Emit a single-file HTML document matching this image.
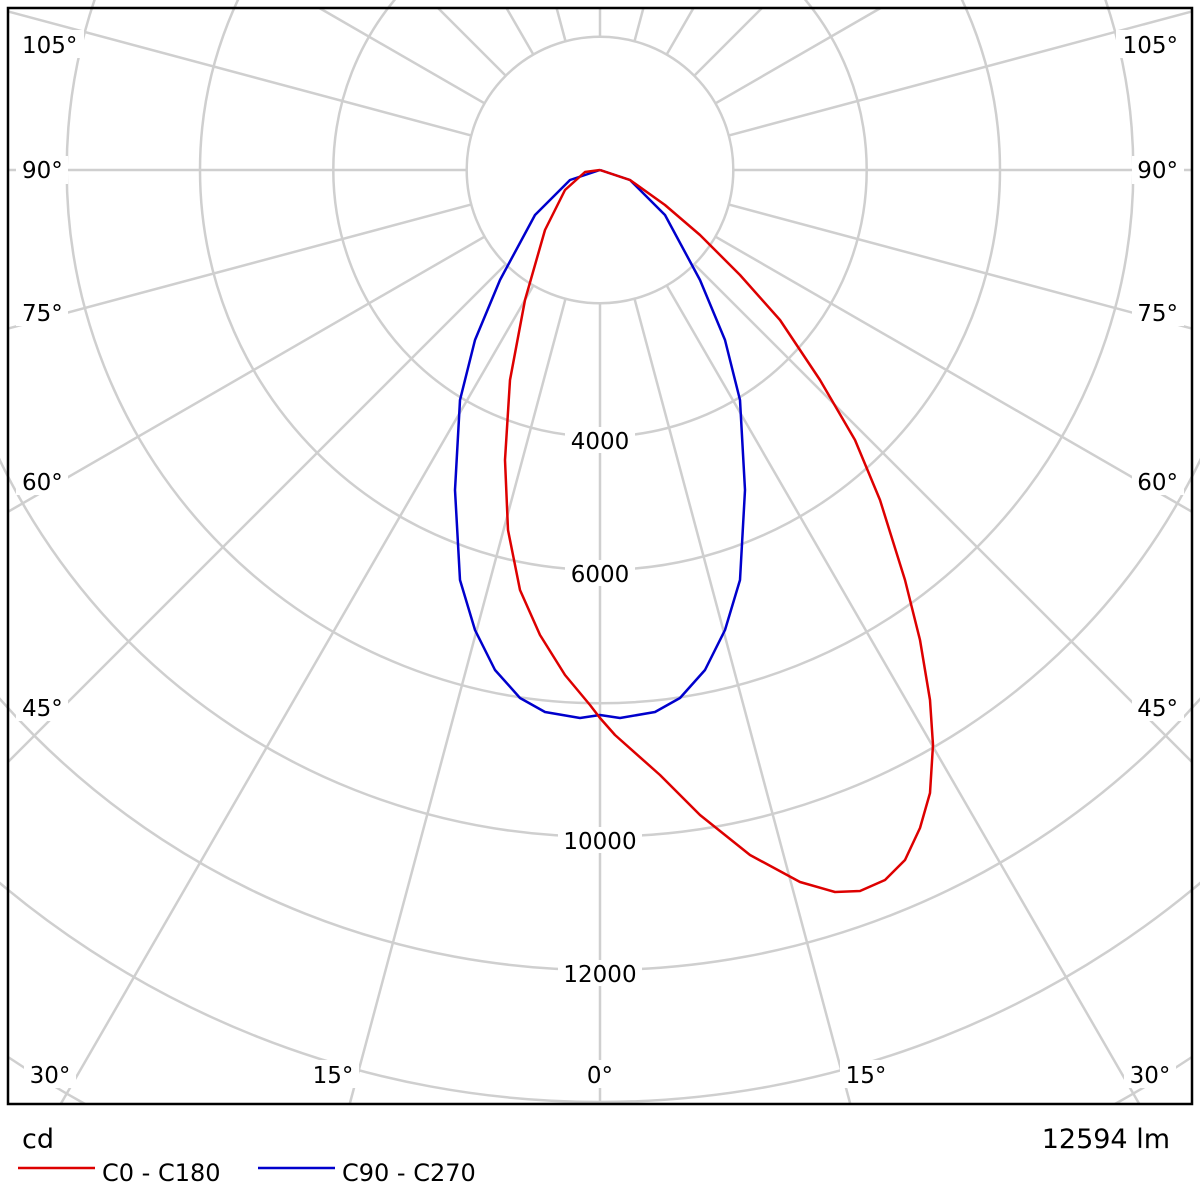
<!DOCTYPE html>
<html><head><meta charset="utf-8"><style>
html,body{margin:0;padding:0;background:#fff;width:1200px;height:1200px;overflow:hidden}
svg{display:block}
text{font-family:"DejaVu Sans","Liberation Sans",sans-serif;fill:#000}
</style></head><body>
<svg width="1200" height="1200" viewBox="0 0 1200 1200" xmlns="http://www.w3.org/2000/svg">
<defs>
<mask id="m" maskUnits="userSpaceOnUse" x="0" y="0" width="1200" height="1200"><rect x="0" y="0" width="1200" height="1200" fill="#fff"/><circle cx="600" cy="170" r="133.3" fill="#000"/></mask></defs>
<g stroke="#cfcfcf" stroke-width="2.5" fill="none">
<g mask="url(#m)">
<line x1="600" y1="170" x2="600" y2="1104"/>
<line x1="600" y1="170" x2="349.7" y2="1104"/>
<line x1="600" y1="170" x2="850.3" y2="1104"/>
<line x1="600" y1="170" x2="60.7" y2="1104"/>
<line x1="600" y1="170" x2="1139.3" y2="1104"/>
<line x1="600" y1="170" x2="8" y2="762"/>
<line x1="600" y1="170" x2="1192" y2="762"/>
<line x1="600" y1="170" x2="8" y2="511.8"/>
<line x1="600" y1="170" x2="1192" y2="511.8"/>
<line x1="600" y1="170" x2="8" y2="328.6"/>
<line x1="600" y1="170" x2="1192" y2="328.6"/>
<line x1="600" y1="170" x2="8" y2="170"/>
<line x1="600" y1="170" x2="1192" y2="170"/>
<line x1="600" y1="170" x2="8" y2="11.4"/>
<line x1="600" y1="170" x2="1192" y2="11.4"/>
<line x1="600" y1="170" x2="319.4" y2="8"/>
<line x1="600" y1="170" x2="880.6" y2="8"/>
<line x1="600" y1="170" x2="438" y2="8"/>
<line x1="600" y1="170" x2="762" y2="8"/>
<line x1="600" y1="170" x2="506.5" y2="8"/>
<line x1="600" y1="170" x2="693.5" y2="8"/>
<line x1="600" y1="170" x2="556.6" y2="8"/>
<line x1="600" y1="170" x2="643.4" y2="8"/>
<line x1="600" y1="170" x2="600" y2="8"/>
</g>
<circle cx="600" cy="170" r="133.3"/>
<circle cx="600" cy="170" r="266.7"/>
<circle cx="600" cy="170" r="400"/>
<circle cx="600" cy="170" r="533.3"/>
<circle cx="600" cy="170" r="666.7"/>
<circle cx="600" cy="170" r="800"/>
<circle cx="600" cy="170" r="932"/>
<path d="M8,1057 A1066.7,1066.7 0 0 0 85,1104"/>
<path d="M1115,1104 A1066.7,1066.7 0 0 0 1192,1057"/>
</g>
<g font-size="23" text-anchor="middle">
<rect x="565" y="427" width="70" height="26" fill="#fff"/><text x="600" y="449">4000</text>
<rect x="565" y="560" width="70" height="26" fill="#fff"/><text x="600" y="582">6000</text>
<rect x="558" y="827" width="84" height="26" fill="#fff"/><text x="600" y="849">10000</text>
<rect x="558" y="960" width="84" height="26" fill="#fff"/><text x="600" y="982">12000</text>
</g>
<g font-size="23">
<g fill="#fff"><rect x="16" y="30" width="68" height="28"/><rect x="16" y="156" width="52" height="28"/><rect x="16" y="298" width="52" height="28"/><rect x="16" y="467" width="52" height="28"/><rect x="16" y="693" width="52" height="28"/>
<rect x="1116" y="30" width="68" height="28"/><rect x="1132" y="156" width="52" height="28"/><rect x="1132" y="298" width="52" height="28"/><rect x="1132" y="467" width="52" height="28"/><rect x="1132" y="693" width="52" height="28"/>
<rect x="24" y="1060" width="52" height="28"/><rect x="307" y="1060" width="52" height="28"/><rect x="580" y="1060" width="40" height="28"/><rect x="840" y="1060" width="52" height="28"/><rect x="1124" y="1060" width="52" height="28"/></g>
<text x="22" y="53">105°</text><text x="22" y="178">90°</text><text x="22" y="321">75°</text><text x="22" y="490">60°</text><text x="22" y="716">45°</text>
<text x="1178" y="53" text-anchor="end">105°</text><text x="1178" y="178" text-anchor="end">90°</text><text x="1178" y="321" text-anchor="end">75°</text><text x="1178" y="490" text-anchor="end">60°</text><text x="1178" y="716" text-anchor="end">45°</text>
<g text-anchor="middle"><text x="50" y="1083">30°</text><text x="333" y="1083">15°</text><text x="600" y="1083">0°</text><text x="866" y="1083">15°</text><text x="1150" y="1083">30°</text></g>
</g>
<polyline fill="none" stroke="#0000cc" stroke-width="2.5" stroke-linejoin="round" points="600,170 630,180 665,215 700,280 725,340 740,400 745,490 740,580 725,630 705,670 680,698 655,712 620,718 600,715 580,718 545,712 520,698 495,670 475,630 460,580 455,490 460,400 475,340 500,280 535,215 570,180 600,170"/>
<polyline fill="none" stroke="#dd0000" stroke-width="2.5" stroke-linejoin="round" points="600,170 585,172 565,190 545,230 525,300 510,380 505,460 508,530 520,590 540,635 565,675 590,705 600,718 615,735 660,775 700,815 750,855 800,882 835,892 860,891 885,880 905,860 920,828 930,793 933,745 930,700 920,640 905,580 880,500 855,440 820,380 780,320 740,275 700,235 665,205 630,180 600,170"/>
<rect x="8" y="8" width="1184" height="1096" fill="none" stroke="#000" stroke-width="2.5"/>
<text x="22" y="1148" font-size="27">cd</text>
<text x="1170" y="1148" font-size="27" text-anchor="end">12594 lm</text>
<line x1="18" y1="1168" x2="95" y2="1168" stroke="#dd0000" stroke-width="2.5"/>
<text x="102" y="1181" font-size="24">C0 - C180</text>
<line x1="258" y1="1168" x2="335" y2="1168" stroke="#0000cc" stroke-width="2.5"/>
<text x="342" y="1181" font-size="24">C90 - C270</text>
</svg>
</body></html>
